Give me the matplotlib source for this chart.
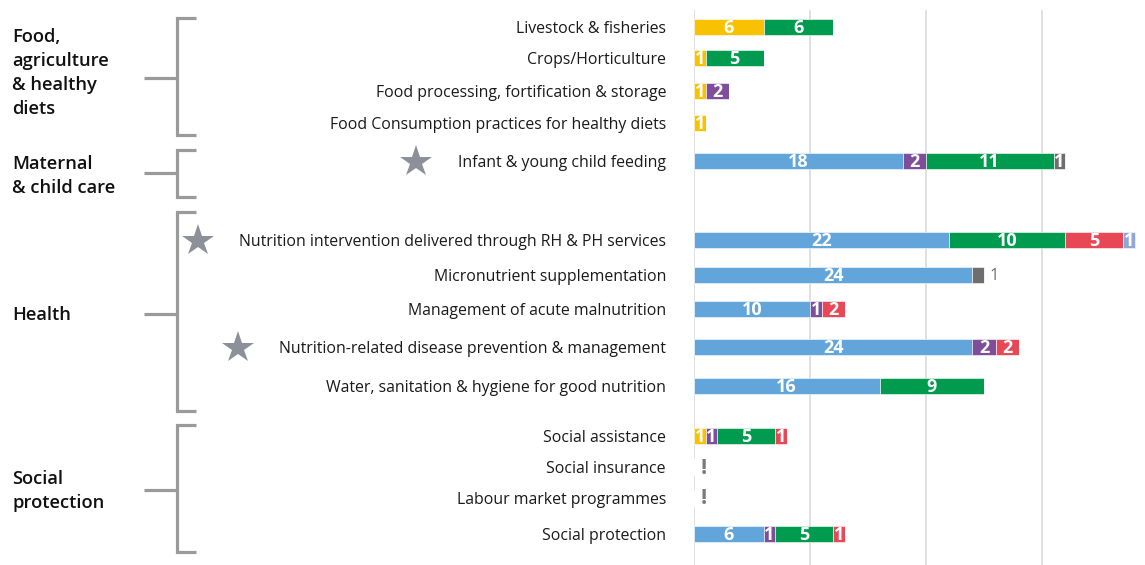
import matplotlib
matplotlib.use("Agg")
import matplotlib.pyplot as plt
import numpy as np

plt.rcParams['font.family'] = ['Open Sans', 'DejaVu Sans']

# ---------------- data ----------------
categories = [
    "Livestock & fisheries",
    "Crops/Horticulture",
    "Food processing, fortification & storage",
    "Food Consumption practices for healthy diets",
    "Infant & young child feeding",
    "Nutrition intervention delivered through RH & PH services",
    "Micronutrient supplementation",
    "Management of acute malnutrition",
    "Nutrition-related disease prevention & management",
    "Water, sanitation & hygiene for good nutrition",
    "Social assistance",
    "Social insurance",
    "Labour market programmes",
    "Social protection",
]
yellow   = [6, 1, 1, 1, 0, 0, 0, 0, 0, 0, 1, 0, 0, 0]
blue     = [0, 0, 0, 0, 18, 22, 24, 10, 24, 16, 0, 0, 0, 6]
purple   = [0, 0, 2, 0, 2, 0, 0, 1, 2, 0, 1, 0, 0, 1]
green    = [6, 5, 0, 0, 11, 10, 0, 0, 0, 9, 5, 0, 0, 5]
red      = [0, 0, 0, 0, 0, 5, 0, 2, 2, 0, 1, 0, 0, 1]
grey     = [0, 0, 0, 0, 1, 0, 1, 0, 0, 0, 0, 0, 0, 0]
lavender = [0, 0, 0, 0, 0, 1, 0, 0, 0, 0, 0, 0, 0, 0]

groups = ["Food,\nagriculture\n& healthy\ndiets", "Maternal\n& child care",
          "Health", "Social\nprotection"]
starred = ["Infant & young child feeding",
           "Nutrition intervention delivered through RH & PH services",
           "Nutrition-related disease prevention & management"]
no_data = ["Social insurance", "Labour market programmes"]
outside_label = ["Micronutrient supplementation"]

# ---------------- layout / style ----------------
W, H = 1145, 565
row_y = [27, 58, 91, 123, 161, 240, 275, 309, 347, 386, 436, 467, 498, 534]
series = [yellow, blue, purple, green, red, grey, lavender]
colors = ["#F8C200", "#62A5DB", "#7F4E9A", "#009B4E", "#E84856", "#6E6E70", "#8EA6D8"]
x0_px, px_per_unit = 694, 11.6
bar_h = 16

fig = plt.figure(figsize=(W / 100, H / 100), dpi=100)
ax = fig.add_axes([x0_px / W, 0, (W - x0_px) / W, (H - 10) / H])
ax.set_xlim(0, (W - x0_px) / px_per_unit)
ax.set_ylim(H, 10)
for s in ax.spines.values():
    s.set_visible(False)
ax.set_xticks([0, 10, 20, 30])
ax.set_yticks([])
ax.tick_params(axis='x', length=0, labelbottom=False)
ax.grid(axis='x', color='#DCDCE2', linewidth=1.3)
ax.set_axisbelow(True)

left = np.zeros(len(categories))
for vals, col in zip(series, colors):
    vals = np.array(vals, dtype=float)
    ax.barh(row_y, vals, left=left, height=bar_h, color=col,
            edgecolor='white', linewidth=0.4)
    for i, v in enumerate(vals):
        if v > 0:
            if categories[i] in outside_label and col == colors[5]:
                ax.text(left[i] + v + 0.9, row_y[i] + 1, f"{int(v)}", color='#6E6E70',
                        ha='center', va='center', fontsize=12)
            else:
                ax.text(left[i] + v / 2, row_y[i] + 1, f"{int(v)}", color='white',
                        ha='center', va='center', fontsize=13, fontweight='bold')
    left += vals

for c in no_data:
    i = categories.index(c)
    ax.text(0.85, row_y[i] + 1, "!", color='#7A7A7C', ha='center', va='center',
            fontsize=16, fontweight='bold')

# overlay axes in pixel coordinates for labels and brackets
ov = fig.add_axes([0, 0, 1, 1])
ov.set_xlim(0, W)
ov.set_ylim(H, 0)
ov.axis('off')
ov.patch.set_alpha(0)

for c, y in zip(categories, row_y):
    ov.text(666, y + 2, c, ha='right', va='center', fontsize=11.4, color='#1A1A1A')

star_x = {starred[0]: 416, starred[1]: 198, starred[2]: 238}
for c in starred:
    y = row_y[categories.index(c)]
    ov.plot(star_x[c], y + 1, marker='*', markersize=24, color='#8D9099',
            markeredgewidth=0)

brackets = [(18, 135, 78), (150, 197, 173), (212, 411, 314), (425, 552, 490)]
label_y = [73, 176, 315, 491]
for (top, bot, mid), g, ly in zip(brackets, groups, label_y):
    ov.plot([196, 177, 177, 196], [top, top, bot, bot], color='#9A9A9A',
            linewidth=2.3, solid_joinstyle='miter', solid_capstyle='butt')
    ov.plot([144, 177], [mid, mid], color='#9A9A9A', linewidth=2.3,
            solid_capstyle='butt')
    ov.text(12, ly, g, ha='left', va='center', fontsize=13.2, fontweight='semibold',
            color='#111111', linespacing=1.42)

fig.savefig("out.png", dpi=100)
